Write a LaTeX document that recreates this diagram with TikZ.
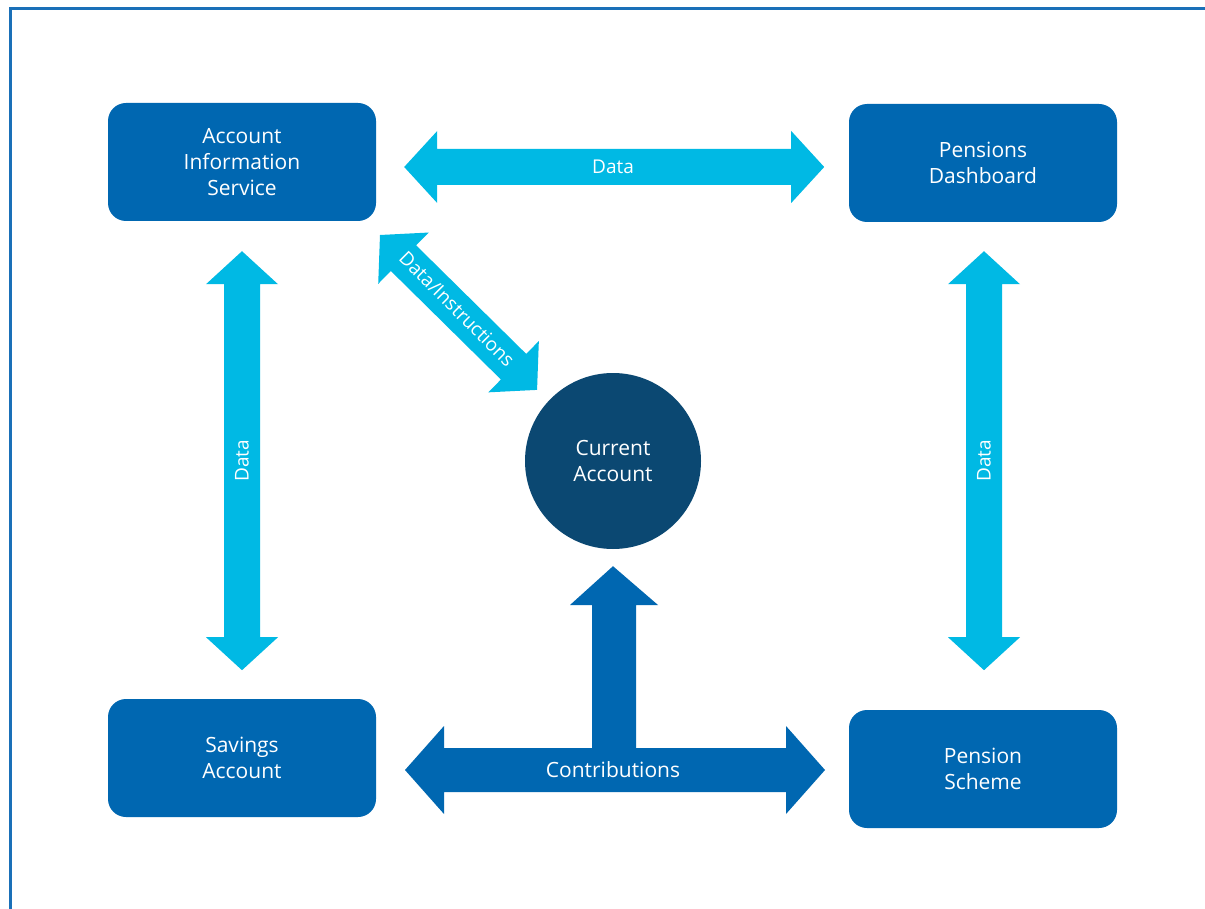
\documentclass[tikz,border=0pt]{standalone}
\usepackage{fontspec}
\setmainfont{Open Sans}
\usetikzlibrary{calc}
\definecolor{boxblue}{HTML}{0067B1}
\definecolor{cyanarr}{HTML}{00B9E4}
\definecolor{darkcirc}{HTML}{0B4872}
\definecolor{framecol}{HTML}{1A70B8}
% double block arrow along local x: #1 length, #2 half shaft, #3 half head, #4 head length
\newcommand\blockdarrow[5]{%
  \fill[#5] (0,0) -- (#4,#3) -- (#4,#2) -- (#1-#4,#2) -- (#1-#4,#3) -- (#1,0)
    -- (#1-#4,-#3) -- (#1-#4,-#2) -- (#4,-#2) -- (#4,-#3) -- cycle;}
\begin{document}
\begin{tikzpicture}[x=1pt,y=-1pt,
  box/.style={fill=boxblue,rounded corners=18pt,minimum width=268pt,minimum height=118pt,
    text=white,align=center,font=\fontsize{21}{26}\selectfont,inner sep=0pt},
  lbl/.style={text=white,font=\fontsize{19}{22}\selectfont,inner sep=0pt},
  ]
\useasboundingbox (0,0) rectangle (1205,909);
\fill[white] (0,0) rectangle (1205,909);
\draw[framecol,line width=3pt] (10.5,909) -- (10.5,8.5) -- (1205,8.5);

\node[box] (ais) at (242,162) {Account\\Information\\Service};
\node[box] (pd) at (983,163) {Pensions\\Dashboard};
\node[box] (sa) at (242,758) {Savings\\Account};
\node[box] (ps) at (983,769) {Pension\\Scheme};
\node[circle,fill=darkcirc,minimum size=176pt,inner sep=0pt,text=white,align=center,
  font=\fontsize{21}{26}\selectfont] (ca) at (613,461) {Current\\Account};

% top data arrow
\coordinate (t1) at ($(ais.east)+(28,5)$);
\begin{scope}[shift={(t1)}]
  \blockdarrow{420}{18}{36}{33}{cyanarr}
\end{scope}
\node[lbl] (dtop) at (613,167) {Data};

% left data arrow
\coordinate (l1) at ($(ais.south)+(0,30)$);
\begin{scope}[shift={(l1)},rotate=-90]
  \blockdarrow{419}{18}{36}{33}{cyanarr}
\end{scope}
\node[lbl,rotate=90] (dleft) at (242,461) {Data};

% right data arrow
\coordinate (r1) at ($(pd.south)+(1,29)$);
\begin{scope}[shift={(r1)},rotate=-90]
  \blockdarrow{419}{18}{36}{33}{cyanarr}
\end{scope}
\node[lbl,rotate=90] (dright) at (984,461) {Data};

% diagonal arrow
\coordinate (d1) at (380,235);
\begin{scope}[shift={(d1)},rotate=-44.6]
  \blockdarrow{220.6}{18}{36}{33}{cyanarr}
\end{scope}
\node[lbl,rotate=-45] (ddiag) at (457,309) {Data/Instructions};

% contributions
\coordinate (c1) at (405,770);
\begin{scope}[shift={(c1)}]
  \blockdarrow{420}{22}{44}{39}{boxblue}
\end{scope}
\fill[boxblue] (592,771) -- (592,605) -- (570,605) -- ($(ca.south)+(0,17)$) -- (658,605) -- (636,605) -- (636,771) -- cycle;
\node[text=white,font=\fontsize{21}{24}\selectfont,inner sep=0pt] (contr) at (613,770) {Contributions};
\end{tikzpicture}
\end{document}
